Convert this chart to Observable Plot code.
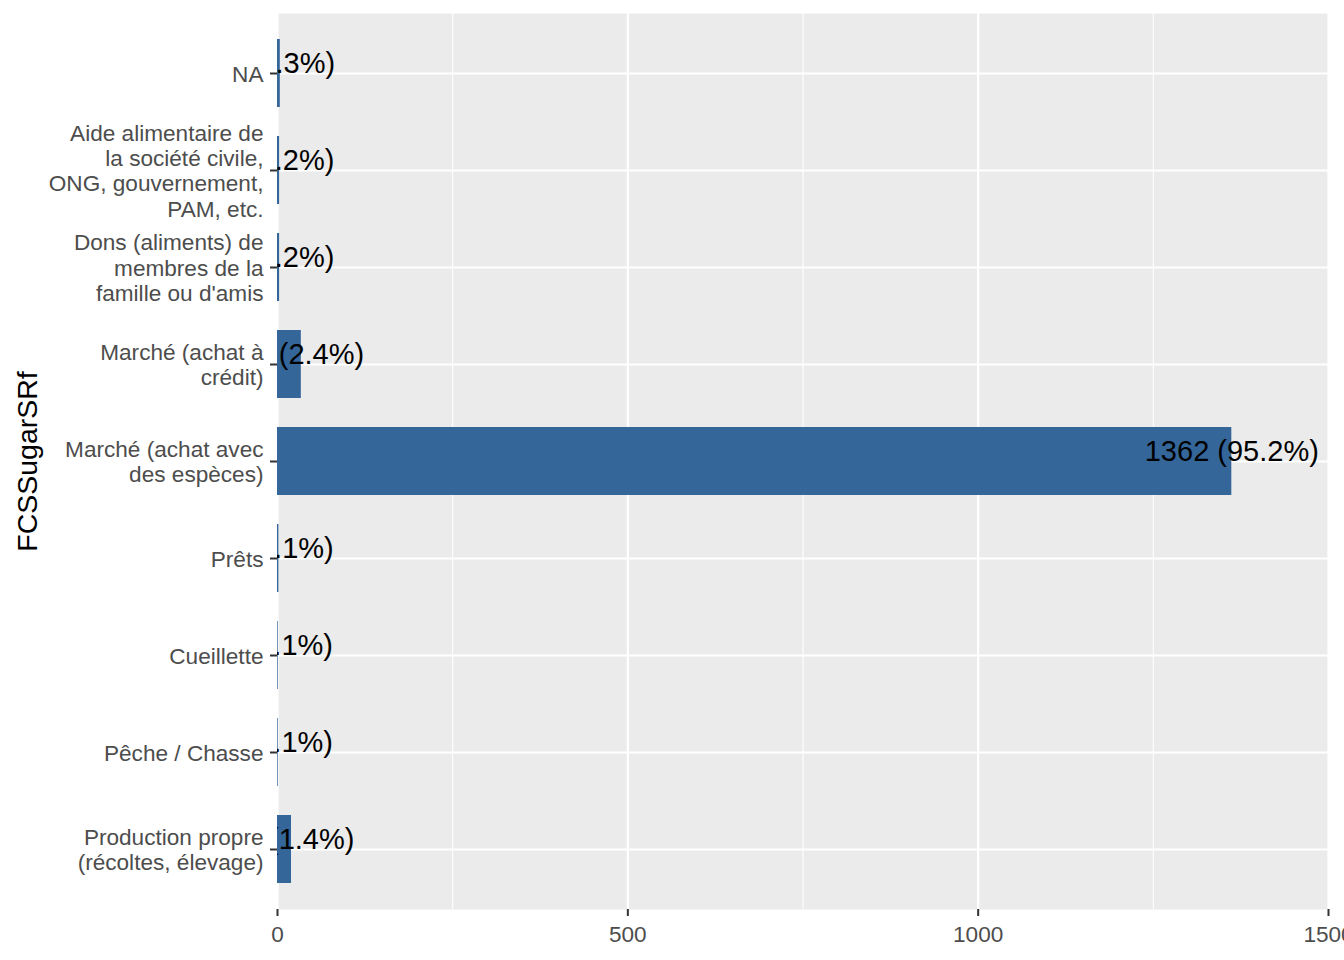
<!DOCTYPE html>
<html>
<head>
<meta charset="utf-8">
<script src="https://cdn.jsdelivr.net/npm/d3@7"></script>
<script src="https://cdn.jsdelivr.net/npm/@observablehq/plot@0.6"></script>
<style>
  html, body { margin: 0; padding: 0; background: #fff; }
  #chart svg { display: block; overflow: hidden; }
</style>
</head>
<body>
<div id="chart"></div>
<script>
const categories = [
  "NA",
  "Aide alimentaire de la société civile, ONG, gouvernement, PAM, etc.",
  "Dons (aliments) de membres de la famille ou d'amis",
  "Marché (achat à crédit)",
  "Marché (achat avec des espèces)",
  "Prêts",
  "Cueillette",
  "Pêche / Chasse",
  "Production propre (récoltes, élevage)"
];
const tickLabels = [
  "NA",
  "Aide alimentaire de\nla société civile,\nONG, gouvernement,\nPAM, etc.",
  "Dons (aliments) de\nmembres de la\nfamille ou d'amis",
  "Marché (achat à\ncrédit)",
  "Marché (achat avec\ndes espèces)",
  "Prêts",
  "Cueillette",
  "Pêche / Chasse",
  "Production propre\n(récoltes, élevage)"
];
const counts = [4, 3, 3, 34, 1362, 2, 1, 1, 20];
const percents = ["0.3", "0.2", "0.2", "2.4", "95.2", "0.1", "0.1", "0.1", "1.4"];
const xTicks = [0, 500, 1000, 1500];
const xMinor = [250, 750, 1250];
const yTitle = "FCSSugarSRf";

const data = categories.map((c, i) => ({
  cat: c,
  n: counts[i],
  label: `${counts[i]} (${percents[i]}%)`
}));
const labelOf = new Map(categories.map((c, i) => [c, tickLabels[i]]));

const chart = Plot.plot({
  width: 1344,
  height: 960,
  marginLeft: 277,
  marginRight: 16,
  marginTop: 13,
  marginBottom: 51,
  style: { fontFamily: "Arial, 'Liberation Sans', sans-serif", background: "#fff" },
  x: { domain: [0, 1500] },
  y: { domain: categories, paddingInner: 0.3, paddingOuter: 0.25 },
  marks: [
    Plot.frame({ fill: "#EBEBEB", stroke: null }),
    Plot.gridX(xMinor, { stroke: "#fff", strokeOpacity: 1, strokeWidth: 1.1 }),
    Plot.gridX(xTicks, { stroke: "#fff", strokeOpacity: 1, strokeWidth: 2.2 }),
    Plot.gridY({ stroke: "#fff", strokeOpacity: 1, strokeWidth: 2.2 }),
    Plot.barX(data, { x: "n", y: "cat", fill: "#34669A" }),
    Plot.text(data, {
      x: "n", y: "cat", text: "label",
      textAnchor: "middle", lineAnchor: "middle", dy: -10,
      fontSize: 29, fill: "#000", clip: true
    }),
    Plot.axisX({
      ticks: xTicks, tickSize: 7, tickPadding: 9, fontSize: 22.6,
      stroke: "#333333", strokeWidth: 2, fill: "#4D4D4D", label: null,
      tickFormat: d3.format("d")
    }),
    Plot.axisY({
      tickSize: 7, tickPadding: 7, fontSize: 22.6, lineHeight: 1.12,
      stroke: "#333333", strokeWidth: 2, fill: "#4D4D4D",
      tickFormat: d => labelOf.get(d), label: null
    }),
    Plot.text([yTitle], {
      text: d => d, frameAnchor: "left", dx: -250, rotate: -90,
      textAnchor: "middle", lineAnchor: "middle", fontSize: 28.5, fill: "#000"
    })
  ]
});
document.getElementById("chart").appendChild(chart);
</script>
</body>
</html>
